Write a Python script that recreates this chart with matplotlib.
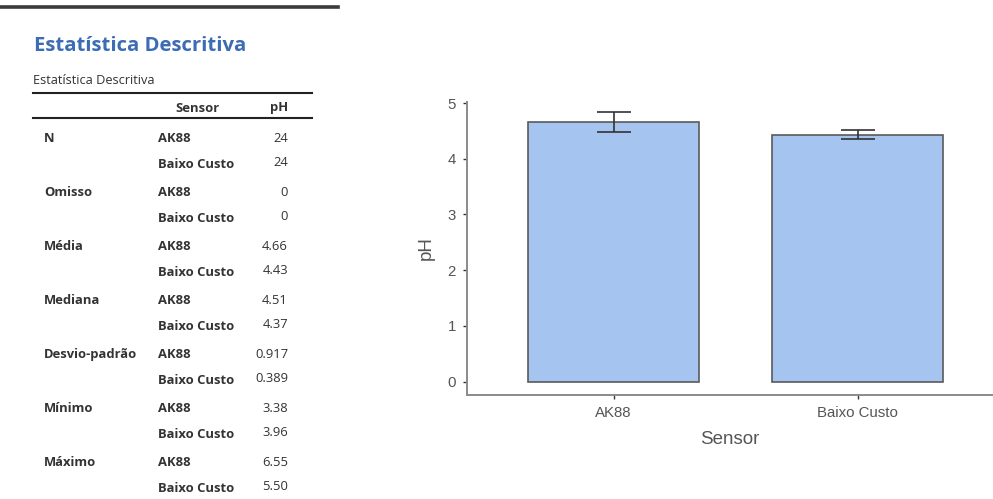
import matplotlib.pyplot as plt
import matplotlib.lines as mlines
import numpy as np

# data
sensors = ['AK88', 'Baixo Custo']
means = [4.66, 4.43]
sds = [0.917, 0.389]
ns = [24, 24]
se = [s / np.sqrt(n) for s, n in zip(sds, ns)]

stat_names = ['N', 'Omisso', 'Média', 'Mediana', 'Desvio-padrão', 'Mínimo', 'Máximo']
stat_values = [['24', '24'], ['0', '0'], ['4.66', '4.43'], ['4.51', '4.37'],
               ['0.917', '0.389'], ['3.38', '3.96'], ['6.55', '5.50']]

W, H = 993, 499
fig = plt.figure(figsize=(W / 100, H / 100), dpi=100)


def fx(px):
    return px / W


def fy(py):
    return 1 - py / H


def hline(x0, x1, y, lw, color):
    fig.add_artist(mlines.Line2D([fx(x0), fx(x1)], [fy(y), fy(y)], lw=lw, color=color,
                                 transform=fig.transFigure))


tfont = 'Open Sans'
fs = 9.4
hline(0, 338, 7, 2.6, '#3c3c3c')
fig.text(fx(34), fy(46), 'Estatística Descritiva', fontsize=14.6, fontweight='bold',
         color='#3b6cb4', family=tfont, va='center')
fig.text(fx(33), fy(81), 'Estatística Descritiva', fontsize=9.2, color='#333333',
         family=tfont, va='center')
hline(33, 312, 93, 1.5, '#222222')
fig.text(fx(197), fy(108), 'Sensor', fontsize=fs, fontweight='bold', color='#333333',
         family=tfont, va='center', ha='center')
fig.text(fx(288), fy(108), 'pH', fontsize=fs, fontweight='bold', color='#333333',
         family=tfont, va='center', ha='right')
hline(33, 312, 118, 1.5, '#222222')

for i, (name, vals) in enumerate(zip(stat_names, stat_values)):
    y0 = 138.5 + 54 * i
    fig.text(fx(44), fy(y0), name, fontsize=fs, fontweight='bold', color='#333333',
             family=tfont, va='center')
    for j, (s, v) in enumerate(zip(sensors, vals)):
        y = y0 + 24 * j
        fig.text(fx(158), fy(y + (2 if j else 0)), s, fontsize=fs, fontweight='bold',
                 color='#333333', family=tfont, va='center')
        fig.text(fx(288), fy(y), v, fontsize=fs, color='#333333', family=tfont,
                 va='center', ha='right')

# bar chart
ax = fig.add_axes([fx(467), 1 - 395 / H, (992 - 467) / W, (395 - 102) / H])
x = np.arange(len(sensors))
ax.bar(x, means, width=0.7, color='#a6c4f0', edgecolor='#5a5a5a', linewidth=1.2, zorder=2)
ax.errorbar(x, means, yerr=se, fmt='none', ecolor='#333333', elinewidth=1.2,
            capsize=12, capthick=1.2, zorder=3)
ax.set_xlim(-0.60, 1.55)
ax.set_ylim(-0.242, 5.018)
ax.set_xticks(x)
ax.set_xticklabels(sensors)
ax.set_yticks(range(6))
for sp in ['top', 'right']:
    ax.spines[sp].set_visible(False)
for sp in ['left', 'bottom']:
    ax.spines[sp].set_color('#8a8a8a')
    ax.spines[sp].set_linewidth(1.4)
ax.tick_params(length=3, width=1, color='#333333', labelsize=10.8, labelcolor='#555555',
               pad=5)
for lab in ax.get_xticklabels() + ax.get_yticklabels():
    lab.set_family('Liberation Sans')
ax.set_xlabel('Sensor', fontsize=13.5, color='#555555', family='Liberation Sans', labelpad=8)
ax.set_ylabel('pH', fontsize=13.5, color='#555555', family='Liberation Sans', labelpad=9)

fig.savefig('out.png', dpi=100)
